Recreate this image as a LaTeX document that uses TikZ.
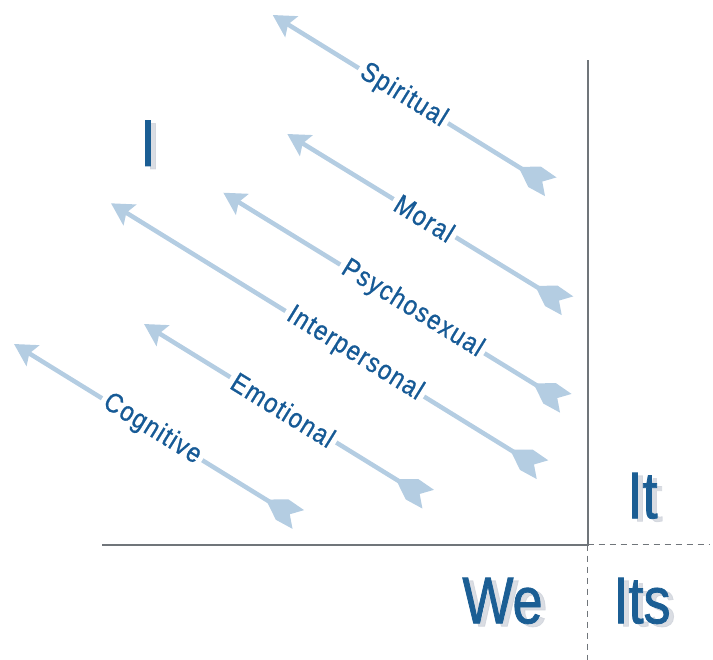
\documentclass[tikz,border=0pt]{standalone}
\usepackage{fontspec}
\usetikzlibrary{arrows.meta}
\newfontfamily\labelfont{Liberation Sans}[FakeStretch=0.86,LetterSpace=5,FakeBold=0.8]
\newfontfamily\quadfont{Liberation Sans}[FakeStretch=0.82,FakeBold=1.2]
\definecolor{lineblue}{RGB}{180,205,226}
\definecolor{textblue}{RGB}{22,90,150}
\definecolor{quadblue}{RGB}{27,94,148}
\definecolor{axisgray}{RGB}{112,117,122}
\definecolor{shadowgray}{RGB}{205,209,217}
\begin{document}
\begin{tikzpicture}[x=1pt,y=-1pt,
  devline/.style={draw=lineblue, line width=4.5pt,
    {Stealth[length=22pt,width=24pt,inset=4pt]}-, shorten >=20pt},
  devlabel/.style={sloped, fill=white, text=textblue,
    font=\labelfont\fontsize{27.5}{27.5}\selectfont, inner xsep=4pt, inner ysep=2pt},
  fletch/.pic={\fill[lineblue] (-38,0) -- (-19,-12) -- (0,-11) -- (-10,0)
    -- (0,11) -- (-19,12) -- cycle;},
  axisline/.style={draw=axisgray, line width=2pt},
  axisdash/.style={draw=axisgray, line width=1.3pt, dash pattern=on 6pt off 5pt},
  quad/.style={text=quadblue, font=\quadfont\fontsize{66}{66}\selectfont,
    inner sep=0pt, anchor=base},
  quadshadow/.style={quad, text=shadowgray, opacity=0.75}
]
\useasboundingbox (0,0) rectangle (713,660);

% quadrant axes
\coordinate (origin) at (587.5,544.5);
\coordinate (ytop) at (587.5,60);
\coordinate (xleft) at (102,544.5);
\coordinate (xright) at (710,544.5);
\coordinate (ybottom) at (587.5,660);
\draw[axisline] (xleft) -- (origin) -- (ytop);
\draw[axisdash] (origin) -- (xright);
\draw[axisdash] (origin) -- (ybottom);

% developmental lines: head (upper left) and tail (lower right)
\coordinate (spH) at (272.7,15);    \coordinate (spT) at (550.8,186.8);
\coordinate (moH) at (287.3,134);   \coordinate (moT) at (567.5,305.8);
\coordinate (psH) at (223.3,192.7); \coordinate (psT) at (565.8,403.3);
\coordinate (inH) at (111,203.3);   \coordinate (inT) at (542.5,469.7);
\coordinate (emH) at (144,324);     \coordinate (emT) at (428.2,499.2);
\coordinate (coH) at (14,344);      \coordinate (coT) at (298.3,519.5);

\draw[devline] (spH) -- node[devlabel, pos=0.47] (spL) {Spiritual} (spT);
\draw[devline] (moH) -- node[devlabel, pos=0.49] (moL) {Moral} (moT);
\draw[devline] (psH) -- node[devlabel, pos=0.552] (psL) {Psychosexual} (psT);
\draw[devline] (inH) -- node[devlabel, pos=0.565] (inL) {Interpersonal} (inT);
\draw[devline] (emH) -- node[devlabel, pos=0.49] (emL) {Emotional} (emT);
\draw[devline] (coH) -- node[devlabel, pos=0.486] (coL) {Cognitive} (coT);

\foreach \t in {spT,moT,psT,inT,emT,coT}
  \pic[rotate=-31.6] at (\t) {fletch};

% quadrant names with soft shadows
\node[quadshadow] at (153,169) {I};
\node[quad] (qI) at (148,166) {I};
\node[quadshadow] at (647.5,521.3) {It};
\node[quad] (qIt) at (642.5,518.3) {It};
\node[quadshadow] at (507.5,626.3) {We};
\node[quad] (qWe) at (502.5,623.3) {We};
\node[quadshadow] at (647,626.3) {Its};
\node[quad] (qIts) at (642,623.3) {Its};
\end{tikzpicture}
\end{document}
